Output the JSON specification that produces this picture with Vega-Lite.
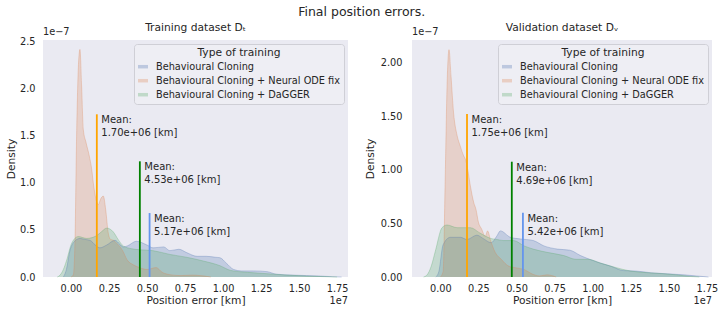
{
  "$schema": "https://vega.github.io/schema/vega-lite/v6.json",
  "background": "white",
  "padding": 5,
  "title": {"text": "Final position errors.", "fontSize": 12.5, "fontWeight": "normal", "anchor": "middle", "offset": 4, "color": "#262626"},
  "config": {
    "font": "DejaVu Sans",
    "view": {"fill": "#eaeaf2", "stroke": null},
    "axis": {"grid": false, "domain": false, "ticks": false, "labelColor": "#262626", "titleColor": "#262626", "labelFontSize": 9.75, "titleFontSize": 10.7, "titleFontWeight": "normal"},
    "legend": {"orient": "top-right", "offset": 4, "titleAnchor": "middle", "titleFontSize": 10.7, "titleFontWeight": "normal", "labelFontSize": 9.75, "labelLimit": 300, "fillColor": "#eeeef4", "strokeColor": "#cfcfd6", "cornerRadius": 3, "padding": 4, "symbolType": "M-1,-0.35H1V0.35H-1Z", "symbolSize": 100, "symbolOpacity": 0.3, "symbolStrokeWidth": 0, "rowPadding": 4, "labelOffset": 8, "titlePadding": 3, "labelColor": "#262626", "titleColor": "#262626"},
    "title": {"fontWeight": "normal", "color": "#262626"}
  },
  "datasets": {
    "train": [
      {"type": "Behavioural Cloning", "err": -500000, "density": 0},
      {"type": "Behavioural Cloning", "err": -300000, "density": 8e-9},
      {"type": "Behavioural Cloning", "err": -70000, "density": 2.8e-8},
      {"type": "Behavioural Cloning", "err": 300000, "density": 3.9e-8},
      {"type": "Behavioural Cloning", "err": 600000, "density": 4.1e-8},
      {"type": "Behavioural Cloning", "err": 900000, "density": 4.0e-8},
      {"type": "Behavioural Cloning", "err": 1250000, "density": 3.9e-8},
      {"type": "Behavioural Cloning", "err": 1600000, "density": 3.4e-8},
      {"type": "Behavioural Cloning", "err": 1900000, "density": 3.1e-8},
      {"type": "Behavioural Cloning", "err": 2350000, "density": 3.4e-8},
      {"type": "Behavioural Cloning", "err": 2900000, "density": 3.9e-8},
      {"type": "Behavioural Cloning", "err": 3200000, "density": 3.5e-8},
      {"type": "Behavioural Cloning", "err": 3440000, "density": 3.2e-8},
      {"type": "Behavioural Cloning", "err": 3700000, "density": 3.3e-8},
      {"type": "Behavioural Cloning", "err": 4300000, "density": 3.8e-8},
      {"type": "Behavioural Cloning", "err": 5000000, "density": 3.4e-8},
      {"type": "Behavioural Cloning", "err": 5400000, "density": 3.1e-8},
      {"type": "Behavioural Cloning", "err": 6100000, "density": 3.2e-8},
      {"type": "Behavioural Cloning", "err": 6500000, "density": 2.8e-8},
      {"type": "Behavioural Cloning", "err": 7100000, "density": 2.95e-8},
      {"type": "Behavioural Cloning", "err": 7600000, "density": 2.6e-8},
      {"type": "Behavioural Cloning", "err": 8300000, "density": 2.2e-8},
      {"type": "Behavioural Cloning", "err": 8900000, "density": 2.2e-8},
      {"type": "Behavioural Cloning", "err": 9500000, "density": 2.1e-8},
      {"type": "Behavioural Cloning", "err": 9800000, "density": 2.05e-8},
      {"type": "Behavioural Cloning", "err": 10200000, "density": 1.5e-8},
      {"type": "Behavioural Cloning", "err": 10700000, "density": 8e-9},
      {"type": "Behavioural Cloning", "err": 11200000, "density": 6.5e-9},
      {"type": "Behavioural Cloning", "err": 12000000, "density": 6.5e-9},
      {"type": "Behavioural Cloning", "err": 12900000, "density": 5.7e-9},
      {"type": "Behavioural Cloning", "err": 13500000, "density": 3e-9},
      {"type": "Behavioural Cloning", "err": 14600000, "density": 2e-9},
      {"type": "Behavioural Cloning", "err": 15500000, "density": 1.5e-9},
      {"type": "Behavioural Cloning", "err": 16400000, "density": 1e-9},
      {"type": "Behavioural Cloning", "err": 17200000, "density": 3e-10},
      {"type": "Behavioural Cloning", "err": 17800000, "density": 0},
      {"type": "Behavioural Cloning + Neural ODE fix", "err": 0, "density": 0},
      {"type": "Behavioural Cloning + Neural ODE fix", "err": 150000, "density": 2e-9},
      {"type": "Behavioural Cloning + Neural ODE fix", "err": 260000, "density": 3.6e-8},
      {"type": "Behavioural Cloning + Neural ODE fix", "err": 370000, "density": 1.5e-7},
      {"type": "Behavioural Cloning + Neural ODE fix", "err": 480000, "density": 2.21e-7},
      {"type": "Behavioural Cloning + Neural ODE fix", "err": 590000, "density": 2.42e-7},
      {"type": "Behavioural Cloning + Neural ODE fix", "err": 700000, "density": 2.03e-7},
      {"type": "Behavioural Cloning + Neural ODE fix", "err": 810000, "density": 1.57e-7},
      {"type": "Behavioural Cloning + Neural ODE fix", "err": 990000, "density": 1.43e-7},
      {"type": "Behavioural Cloning + Neural ODE fix", "err": 1200000, "density": 1.29e-7},
      {"type": "Behavioural Cloning + Neural ODE fix", "err": 1360000, "density": 1.15e-7},
      {"type": "Behavioural Cloning + Neural ODE fix", "err": 1470000, "density": 1.0e-7},
      {"type": "Behavioural Cloning + Neural ODE fix", "err": 1640000, "density": 8.3e-8},
      {"type": "Behavioural Cloning + Neural ODE fix", "err": 1800000, "density": 7.7e-8},
      {"type": "Behavioural Cloning + Neural ODE fix", "err": 1950000, "density": 8.3e-8},
      {"type": "Behavioural Cloning + Neural ODE fix", "err": 2130000, "density": 8.6e-8},
      {"type": "Behavioural Cloning + Neural ODE fix", "err": 2280000, "density": 7.2e-8},
      {"type": "Behavioural Cloning + Neural ODE fix", "err": 2450000, "density": 4.7e-8},
      {"type": "Behavioural Cloning + Neural ODE fix", "err": 2600000, "density": 4.0e-8},
      {"type": "Behavioural Cloning + Neural ODE fix", "err": 2800000, "density": 3.9e-8},
      {"type": "Behavioural Cloning + Neural ODE fix", "err": 3000000, "density": 3.6e-8},
      {"type": "Behavioural Cloning + Neural ODE fix", "err": 3400000, "density": 2.8e-8},
      {"type": "Behavioural Cloning + Neural ODE fix", "err": 3700000, "density": 1.8e-8},
      {"type": "Behavioural Cloning + Neural ODE fix", "err": 4100000, "density": 1.3e-8},
      {"type": "Behavioural Cloning + Neural ODE fix", "err": 4500000, "density": 1.0e-8},
      {"type": "Behavioural Cloning + Neural ODE fix", "err": 5000000, "density": 8e-9},
      {"type": "Behavioural Cloning + Neural ODE fix", "err": 5600000, "density": 1.0e-8},
      {"type": "Behavioural Cloning + Neural ODE fix", "err": 6000000, "density": 5e-9},
      {"type": "Behavioural Cloning + Neural ODE fix", "err": 6500000, "density": 2.5e-9},
      {"type": "Behavioural Cloning + Neural ODE fix", "err": 7200000, "density": 1.5e-9},
      {"type": "Behavioural Cloning + Neural ODE fix", "err": 8000000, "density": 2e-9},
      {"type": "Behavioural Cloning + Neural ODE fix", "err": 8500000, "density": 1.5e-9},
      {"type": "Behavioural Cloning + Neural ODE fix", "err": 9200000, "density": 0},
      {"type": "Behavioural Cloning + DaGGER", "err": -900000, "density": 0},
      {"type": "Behavioural Cloning + DaGGER", "err": -720000, "density": 2e-9},
      {"type": "Behavioural Cloning + DaGGER", "err": -500000, "density": 8e-9},
      {"type": "Behavioural Cloning + DaGGER", "err": -300000, "density": 1.7e-8},
      {"type": "Behavioural Cloning + DaGGER", "err": 50000, "density": 3.6e-8},
      {"type": "Behavioural Cloning + DaGGER", "err": 480000, "density": 4.3e-8},
      {"type": "Behavioural Cloning + DaGGER", "err": 1040000, "density": 4.1e-8},
      {"type": "Behavioural Cloning + DaGGER", "err": 1690000, "density": 4.4e-8},
      {"type": "Behavioural Cloning + DaGGER", "err": 2000000, "density": 4.8e-8},
      {"type": "Behavioural Cloning + DaGGER", "err": 2350000, "density": 5.2e-8},
      {"type": "Behavioural Cloning + DaGGER", "err": 2780000, "density": 4.8e-8},
      {"type": "Behavioural Cloning + DaGGER", "err": 3100000, "density": 4.0e-8},
      {"type": "Behavioural Cloning + DaGGER", "err": 3440000, "density": 3.3e-8},
      {"type": "Behavioural Cloning + DaGGER", "err": 4000000, "density": 3.0e-8},
      {"type": "Behavioural Cloning + DaGGER", "err": 4500000, "density": 2.9e-8},
      {"type": "Behavioural Cloning + DaGGER", "err": 5400000, "density": 2.8e-8},
      {"type": "Behavioural Cloning + DaGGER", "err": 6500000, "density": 2.4e-8},
      {"type": "Behavioural Cloning + DaGGER", "err": 7600000, "density": 2.1e-8},
      {"type": "Behavioural Cloning + DaGGER", "err": 8700000, "density": 1.7e-8},
      {"type": "Behavioural Cloning + DaGGER", "err": 9800000, "density": 1.2e-8},
      {"type": "Behavioural Cloning + DaGGER", "err": 10500000, "density": 7e-9},
      {"type": "Behavioural Cloning + DaGGER", "err": 11600000, "density": 5e-9},
      {"type": "Behavioural Cloning + DaGGER", "err": 12900000, "density": 3.5e-9},
      {"type": "Behavioural Cloning + DaGGER", "err": 14200000, "density": 2e-9},
      {"type": "Behavioural Cloning + DaGGER", "err": 15500000, "density": 1e-9},
      {"type": "Behavioural Cloning + DaGGER", "err": 16800000, "density": 3e-10},
      {"type": "Behavioural Cloning + DaGGER", "err": 17500000, "density": 0}
    ],
    "valid": [
      {"type": "Behavioural Cloning", "err": -300000, "density": 0},
      {"type": "Behavioural Cloning", "err": -100000, "density": 5e-9},
      {"type": "Behavioural Cloning", "err": 180000, "density": 3.0e-8},
      {"type": "Behavioural Cloning", "err": 660000, "density": 3.7e-8},
      {"type": "Behavioural Cloning", "err": 1310000, "density": 3.7e-8},
      {"type": "Behavioural Cloning", "err": 1750000, "density": 3.5e-8},
      {"type": "Behavioural Cloning", "err": 2400000, "density": 3.9e-8},
      {"type": "Behavioural Cloning", "err": 2800000, "density": 3.6e-8},
      {"type": "Behavioural Cloning", "err": 3330000, "density": 3.2e-8},
      {"type": "Behavioural Cloning", "err": 3700000, "density": 3.8e-8},
      {"type": "Behavioural Cloning", "err": 3940000, "density": 4.3e-8},
      {"type": "Behavioural Cloning", "err": 4600000, "density": 3.7e-8},
      {"type": "Behavioural Cloning", "err": 5250000, "density": 3.55e-8},
      {"type": "Behavioural Cloning", "err": 6100000, "density": 3.4e-8},
      {"type": "Behavioural Cloning", "err": 6800000, "density": 2.9e-8},
      {"type": "Behavioural Cloning", "err": 7700000, "density": 2.6e-8},
      {"type": "Behavioural Cloning", "err": 8500000, "density": 2.5e-8},
      {"type": "Behavioural Cloning", "err": 9200000, "density": 2.0e-8},
      {"type": "Behavioural Cloning", "err": 9800000, "density": 1.65e-8},
      {"type": "Behavioural Cloning", "err": 10500000, "density": 1.3e-8},
      {"type": "Behavioural Cloning", "err": 11200000, "density": 1.0e-8},
      {"type": "Behavioural Cloning", "err": 12000000, "density": 6e-9},
      {"type": "Behavioural Cloning", "err": 12900000, "density": 5.5e-9},
      {"type": "Behavioural Cloning", "err": 13800000, "density": 4e-9},
      {"type": "Behavioural Cloning", "err": 14900000, "density": 3e-9},
      {"type": "Behavioural Cloning", "err": 16000000, "density": 2e-9},
      {"type": "Behavioural Cloning", "err": 16800000, "density": 1e-9},
      {"type": "Behavioural Cloning", "err": 17600000, "density": 0},
      {"type": "Behavioural Cloning + Neural ODE fix", "err": 0, "density": 0},
      {"type": "Behavioural Cloning + Neural ODE fix", "err": 180000, "density": 5e-9},
      {"type": "Behavioural Cloning + Neural ODE fix", "err": 330000, "density": 1.0e-7},
      {"type": "Behavioural Cloning + Neural ODE fix", "err": 440000, "density": 1.78e-7},
      {"type": "Behavioural Cloning + Neural ODE fix", "err": 570000, "density": 2.12e-7},
      {"type": "Behavioural Cloning + Neural ODE fix", "err": 700000, "density": 1.875e-7},
      {"type": "Behavioural Cloning + Neural ODE fix", "err": 870000, "density": 1.53e-7},
      {"type": "Behavioural Cloning + Neural ODE fix", "err": 1100000, "density": 1.32e-7},
      {"type": "Behavioural Cloning + Neural ODE fix", "err": 1310000, "density": 1.22e-7},
      {"type": "Behavioural Cloning + Neural ODE fix", "err": 1530000, "density": 1.13e-7},
      {"type": "Behavioural Cloning + Neural ODE fix", "err": 1640000, "density": 1.10e-7},
      {"type": "Behavioural Cloning + Neural ODE fix", "err": 1800000, "density": 1.0e-7},
      {"type": "Behavioural Cloning + Neural ODE fix", "err": 1970000, "density": 8.5e-8},
      {"type": "Behavioural Cloning + Neural ODE fix", "err": 2200000, "density": 6.9e-8},
      {"type": "Behavioural Cloning + Neural ODE fix", "err": 2340000, "density": 6.3e-8},
      {"type": "Behavioural Cloning + Neural ODE fix", "err": 2500000, "density": 5.1e-8},
      {"type": "Behavioural Cloning + Neural ODE fix", "err": 2700000, "density": 4.5e-8},
      {"type": "Behavioural Cloning + Neural ODE fix", "err": 2950000, "density": 3.8e-8},
      {"type": "Behavioural Cloning + Neural ODE fix", "err": 3100000, "density": 4.3e-8},
      {"type": "Behavioural Cloning + Neural ODE fix", "err": 3300000, "density": 3.4e-8},
      {"type": "Behavioural Cloning + Neural ODE fix", "err": 3600000, "density": 2.3e-8},
      {"type": "Behavioural Cloning + Neural ODE fix", "err": 4000000, "density": 1.65e-8},
      {"type": "Behavioural Cloning + Neural ODE fix", "err": 4500000, "density": 1.0e-8},
      {"type": "Behavioural Cloning + Neural ODE fix", "err": 5000000, "density": 8.5e-9},
      {"type": "Behavioural Cloning + Neural ODE fix", "err": 5500000, "density": 7e-9},
      {"type": "Behavioural Cloning + Neural ODE fix", "err": 6000000, "density": 3e-9},
      {"type": "Behavioural Cloning + Neural ODE fix", "err": 6500000, "density": 1e-9},
      {"type": "Behavioural Cloning + Neural ODE fix", "err": 7000000, "density": 2e-9},
      {"type": "Behavioural Cloning + Neural ODE fix", "err": 7600000, "density": 0},
      {"type": "Behavioural Cloning + DaGGER", "err": -1100000, "density": 0},
      {"type": "Behavioural Cloning + DaGGER", "err": -870000, "density": 2e-9},
      {"type": "Behavioural Cloning + DaGGER", "err": -600000, "density": 1.0e-8},
      {"type": "Behavioural Cloning + DaGGER", "err": -330000, "density": 2.4e-8},
      {"type": "Behavioural Cloning + DaGGER", "err": 110000, "density": 4.6e-8},
      {"type": "Behavioural Cloning + DaGGER", "err": 440000, "density": 4.85e-8},
      {"type": "Behavioural Cloning + DaGGER", "err": 1100000, "density": 4.6e-8},
      {"type": "Behavioural Cloning + DaGGER", "err": 1970000, "density": 4.6e-8},
      {"type": "Behavioural Cloning + DaGGER", "err": 2600000, "density": 4.1e-8},
      {"type": "Behavioural Cloning + DaGGER", "err": 3300000, "density": 3.6e-8},
      {"type": "Behavioural Cloning + DaGGER", "err": 3700000, "density": 3.5e-8},
      {"type": "Behavioural Cloning + DaGGER", "err": 4150000, "density": 3.4e-8},
      {"type": "Behavioural Cloning + DaGGER", "err": 4800000, "density": 3.4e-8},
      {"type": "Behavioural Cloning + DaGGER", "err": 5500000, "density": 2.9e-8},
      {"type": "Behavioural Cloning + DaGGER", "err": 6100000, "density": 2.6e-8},
      {"type": "Behavioural Cloning + DaGGER", "err": 7000000, "density": 2.3e-8},
      {"type": "Behavioural Cloning + DaGGER", "err": 8100000, "density": 2.0e-8},
      {"type": "Behavioural Cloning + DaGGER", "err": 8900000, "density": 1.65e-8},
      {"type": "Behavioural Cloning + DaGGER", "err": 9700000, "density": 1.65e-8},
      {"type": "Behavioural Cloning + DaGGER", "err": 10500000, "density": 1.3e-8},
      {"type": "Behavioural Cloning + DaGGER", "err": 11400000, "density": 9.3e-9},
      {"type": "Behavioural Cloning + DaGGER", "err": 12500000, "density": 5.5e-9},
      {"type": "Behavioural Cloning + DaGGER", "err": 13600000, "density": 4e-9},
      {"type": "Behavioural Cloning + DaGGER", "err": 14700000, "density": 3e-9},
      {"type": "Behavioural Cloning + DaGGER", "err": 15500000, "density": 2e-9},
      {"type": "Behavioural Cloning + DaGGER", "err": 16400000, "density": 5e-10},
      {"type": "Behavioural Cloning + DaGGER", "err": 17000000, "density": 0}
    ],
    "train_means": [
      {"type": "Behavioural Cloning", "mean": 5170000, "top": 6.8e-8, "label": ["Mean:", "\u00a05.17e+06 [km]"]},
      {"type": "Behavioural Cloning + Neural ODE fix", "mean": 1700000, "top": 1.73e-7, "label": ["Mean:", "1.70e+06 [km]"]},
      {"type": "Behavioural Cloning + DaGGER", "mean": 4530000, "top": 1.23e-7, "label": ["Mean:", "4.53e+06 [km]"]}
    ],
    "valid_means": [
      {"type": "Behavioural Cloning", "mean": 5420000, "top": 6.0e-8, "label": ["Mean:", "\u00a05.42e+06 [km]"]},
      {"type": "Behavioural Cloning + Neural ODE fix", "mean": 1750000, "top": 1.52e-7, "label": ["Mean:", "1.75e+06 [km]"]},
      {"type": "Behavioural Cloning + DaGGER", "mean": 4690000, "top": 1.075e-7, "label": ["Mean:", "4.69e+06 [km]"]}
    ],
    "offsets": [{"xexp": "1e7", "yexp": "1e−7"}]
  },
  "hconcat": [
    {
      "width": 305,
      "height": 237,
      "title": {"text": "Training dataset Dₜ", "fontSize": 10.7, "offset": -7},
      "resolve": {"scale": {"stroke": "independent"}},
      "layer": [
        {
          "data": {"name": "train"},
          "mark": {"type": "area", "fillOpacity": 0.25, "stroke": null, "interpolate": "monotone"},
          "encoding": {
            "x": {"field": "err", "type": "quantitative", "title": "Position error [km]", "scale": {"domain": [-1840000, 18220000], "nice": false, "zero": false}, "axis": {"values": [0, 2500000, 5000000, 7500000, 10000000, 12500000, 15000000, 17500000], "labelExpr": "format(datum.value/1e7, '.2f')", "labelPadding": 6, "titlePadding": 3}},
            "y": {"field": "density", "type": "quantitative", "stack": null, "title": "Density", "scale": {"domain": [0, 2.52e-7], "nice": false}, "axis": {"values": [0, 5e-8, 1e-7, 1.5e-7, 2e-7, 2.5e-7], "labelExpr": "format(datum.value*1e7, '.1f')", "labelPadding": 8, "titlePadding": 3}},
            "color": {"field": "type", "type": "nominal", "scale": {"domain": ["Behavioural Cloning", "Behavioural Cloning + Neural ODE fix", "Behavioural Cloning + DaGGER"], "range": ["#4c72b0", "#dd8452", "#55a868"]}, "legend": {"title": "Type of training"}}
          }
        },
        {
          "data": {"name": "train"},
          "mark": {"type": "line", "strokeOpacity": 0.3, "strokeWidth": 1, "interpolate": "monotone"},
          "encoding": {
            "x": {"field": "err", "type": "quantitative"},
            "y": {"field": "density", "type": "quantitative"},
            "stroke": {"field": "type", "type": "nominal", "scale": {"domain": ["Behavioural Cloning", "Behavioural Cloning + Neural ODE fix", "Behavioural Cloning + DaGGER"], "range": ["#4c72b0", "#dd8452", "#55a868"]}, "legend": null}
          }
        },
        {
          "data": {"name": "train_means"},
          "mark": {"type": "rule", "strokeWidth": 1.8},
          "encoding": {
            "x": {"field": "mean", "type": "quantitative"},
            "y": {"field": "top", "type": "quantitative"},
            "y2": {"datum": 0},
            "stroke": {"field": "type", "type": "nominal", "scale": {"domain": ["Behavioural Cloning", "Behavioural Cloning + Neural ODE fix", "Behavioural Cloning + DaGGER"], "range": ["#6495ed", "#ffa500", "#008000"]}, "legend": null}
          }
        },
        {
          "data": {"name": "train_means"},
          "mark": {"type": "text", "align": "left", "baseline": "top", "dx": 4.5, "dy": 1, "fontSize": 10, "lineHeight": 13, "color": "#262626"},
          "encoding": {
            "x": {"field": "mean", "type": "quantitative"},
            "y": {"field": "top", "type": "quantitative"},
            "text": {"field": "label"}
          }
        },
        {
          "data": {"name": "offsets"},
          "mark": {"type": "text", "align": "left", "baseline": "bottom", "dy": -3, "fontSize": 9.75, "color": "#262626"},
          "encoding": {
            "x": {"datum": -1840000},
            "y": {"datum": 2.52e-7},
            "text": {"field": "yexp"}
          }
        },
        {
          "data": {"name": "offsets"},
          "mark": {"type": "text", "align": "right", "baseline": "top", "dy": 19, "fontSize": 9.75, "color": "#262626"},
          "encoding": {
            "x": {"datum": 18220000},
            "y": {"datum": 0},
            "text": {"field": "xexp"}
          }
        }
      ]
    },
    {
      "width": 300,
      "height": 237,
      "title": {"text": "Validation dataset Dᵥ", "fontSize": 10.7, "offset": -7},
      "resolve": {"scale": {"stroke": "independent"}},
      "layer": [
        {
          "data": {"name": "valid"},
          "mark": {"type": "area", "fillOpacity": 0.25, "stroke": null, "interpolate": "monotone"},
          "encoding": {
            "x": {"field": "err", "type": "quantitative", "title": "Position error [km]", "scale": {"domain": [-1860000, 17830000], "nice": false, "zero": false}, "axis": {"values": [0, 2500000, 5000000, 7500000, 10000000, 12500000, 15000000, 17500000], "labelExpr": "format(datum.value/1e7, '.2f')", "labelPadding": 6, "titlePadding": 3}},
            "y": {"field": "density", "type": "quantitative", "stack": null, "title": "Density", "scale": {"domain": [0, 2.21e-7], "nice": false}, "axis": {"values": [0, 2.5e-8, 5e-8, 7.5e-8, 1e-7, 1.25e-7, 1.5e-7, 1.75e-7, 2e-7], "labelExpr": "format(datum.value*1e7, '.2f')", "labelPadding": 10, "titlePadding": 4.5}},
            "color": {"field": "type", "type": "nominal", "scale": {"domain": ["Behavioural Cloning", "Behavioural Cloning + Neural ODE fix", "Behavioural Cloning + DaGGER"], "range": ["#4c72b0", "#dd8452", "#55a868"]}, "legend": {"title": "Type of training"}}
          }
        },
        {
          "data": {"name": "valid"},
          "mark": {"type": "line", "strokeOpacity": 0.3, "strokeWidth": 1, "interpolate": "monotone"},
          "encoding": {
            "x": {"field": "err", "type": "quantitative"},
            "y": {"field": "density", "type": "quantitative"},
            "stroke": {"field": "type", "type": "nominal", "scale": {"domain": ["Behavioural Cloning", "Behavioural Cloning + Neural ODE fix", "Behavioural Cloning + DaGGER"], "range": ["#4c72b0", "#dd8452", "#55a868"]}, "legend": null}
          }
        },
        {
          "data": {"name": "valid_means"},
          "mark": {"type": "rule", "strokeWidth": 1.8},
          "encoding": {
            "x": {"field": "mean", "type": "quantitative"},
            "y": {"field": "top", "type": "quantitative"},
            "y2": {"datum": 0},
            "stroke": {"field": "type", "type": "nominal", "scale": {"domain": ["Behavioural Cloning", "Behavioural Cloning + Neural ODE fix", "Behavioural Cloning + DaGGER"], "range": ["#6495ed", "#ffa500", "#008000"]}, "legend": null}
          }
        },
        {
          "data": {"name": "valid_means"},
          "mark": {"type": "text", "align": "left", "baseline": "top", "dx": 4.5, "dy": 1, "fontSize": 10, "lineHeight": 13, "color": "#262626"},
          "encoding": {
            "x": {"field": "mean", "type": "quantitative"},
            "y": {"field": "top", "type": "quantitative"},
            "text": {"field": "label"}
          }
        },
        {
          "data": {"name": "offsets"},
          "mark": {"type": "text", "align": "left", "baseline": "bottom", "dy": -3, "fontSize": 9.75, "color": "#262626"},
          "encoding": {
            "x": {"datum": -1860000},
            "y": {"datum": 2.21e-7},
            "text": {"field": "yexp"}
          }
        },
        {
          "data": {"name": "offsets"},
          "mark": {"type": "text", "align": "right", "baseline": "top", "dy": 19, "fontSize": 9.75, "color": "#262626"},
          "encoding": {
            "x": {"datum": 17830000},
            "y": {"datum": 0},
            "text": {"field": "xexp"}
          }
        }
      ]
    }
  ],
  "spacing": 16,
  "resolve": {"scale": {"x": "independent", "y": "independent", "color": "independent", "stroke": "independent"}, "legend": {"color": "independent"}}
}
